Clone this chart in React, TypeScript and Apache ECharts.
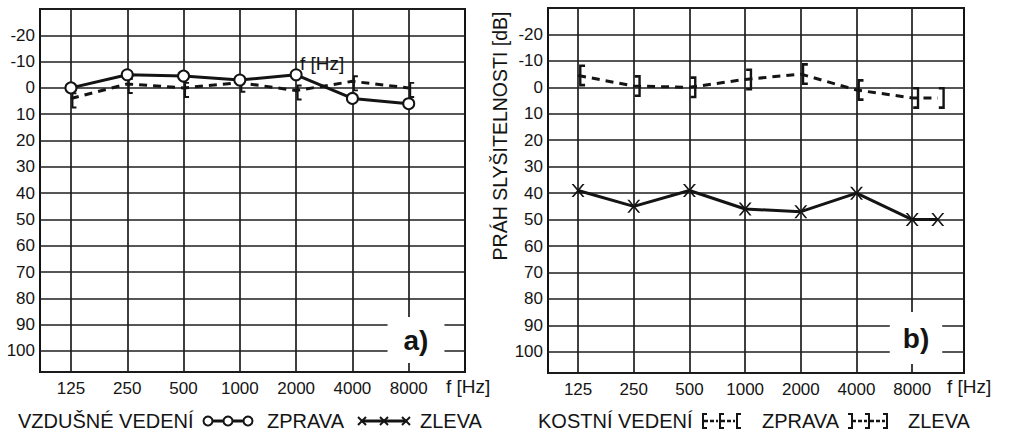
import React, { useEffect, useRef } from 'react';
import * as echarts from 'echarts';

// ---- data ----
const freqTicks = [125, 250, 500, 1000, 2000, 4000, 8000];
const freqTickLabels = ['125', '250', '500', '1000', '2000', '4000', '8000'];

// chart a) air conduction
const freqsA = [125, 250, 500, 1000, 2000, 4000, 8000];
const airRightA = [0, -5, -4.5, -3, -5, 4, 6];
const airLeftA = [4, -1.5, 0, -2, 1, -2.5, 0];

// chart b)
const freqsB = [125, 250, 500, 1000, 2000, 4000, 8000, 11000];
const boneB = [-4.5, -0.5, 0, -3, -5, 1, 4, 4];
const boneMarksB = ['[', ']', ']', ']', '[', '[', ']', ']'];
const airB = [39, 45, 39, 46, 47, 40, 50, 50];

const INK = '#141414';
const GRID = '#1e1e1e';
const FONT = '"Liberation Sans", Arial, sans-serif';

const oct = (f: number) => Math.log2(f / 125);

const BR_L = 'path://M0,0H6V2.4H2.4V17.6H6V20H0Z';
const BR_R = 'path://M0,0H6V20H0V17.6H3.6V2.4H0Z';
const X_SYM = 'path://M0,0L1.6,0L5,4.1L8.4,0L10,0L5.8,5L10,10L8.4,10L5,5.9L1.6,10L0,10L4.2,5Z';

const xAxisFor = (gridIndex: number, min: number, max: number) => ({
  type: 'value',
  gridIndex,
  min,
  max,
  axisLine: { show: false },
  axisTick: { show: false, customValues: freqTicks.map(oct) },
  axisLabel: {
    customValues: freqTicks.map(oct),
    formatter: (v: number) => freqTickLabels[Math.round(v)] ?? '',
    margin: 8,
    fontSize: 17,
    color: INK,
    fontFamily: FONT,
  },
  splitLine: { show: true, lineStyle: { color: GRID, width: 1.7 } },
});

const yAxisFor = (gridIndex: number) => ({
  type: 'value',
  gridIndex,
  inverse: true,
  min: -30,
  max: 108,
  interval: 10,
  axisLine: { show: false },
  axisTick: { show: false },
  axisLabel: {
    formatter: (v: number) => (v >= -20 && v <= 100 ? String(v) : ''),
    margin: 5,
    fontSize: 17,
    color: INK,
    fontFamily: FONT,
  },
  splitLine: { show: true, lineStyle: { color: GRID, width: 1.7 } },
});

const txt = (text: string, x: number, y: number, size: number, extra: any = {}) => ({
  type: 'text',
  x,
  y,
  z: 50,
  ...extra,
  style: {
    text,
    fill: INK,
    fontSize: size,
    fontFamily: FONT,
    align: 'left',
    textAlign: 'left',
    verticalAlign: 'middle',
    textVerticalAlign: 'middle',
    ...(extra.style || {}),
  },
});

const line = (x1: number, y1: number, x2: number, y2: number, w: number, dash?: number[]) => ({
  type: 'line',
  z: 50,
  shape: { x1, y1, x2, y2 },
  style: { stroke: INK, lineWidth: w, lineDash: dash },
});

const circleKey = (cx: number, cy: number) => ({
  type: 'circle',
  z: 51,
  shape: { cx, cy, r: 4.5 },
  style: { fill: '#fff', stroke: INK, lineWidth: 2 },
});

const xKey = (cx: number, cy: number) => [
  line(cx - 4, cy - 4, cx + 4, cy + 4, 2),
  line(cx - 4, cy + 4, cx + 4, cy - 4, 2),
];

const bracketKey = (x: number, cy: number, open: 'L' | 'R') => {
  const d = open === 'L' ? 4 : -4;
  return {
    type: 'polyline',
    z: 51,
    shape: { points: [[x + d, cy - 7], [x, cy - 7], [x, cy + 7], [x + d, cy + 7]] },
    style: { stroke: INK, lineWidth: 2, fill: null },
  };
};

const LY = 421;
const LF = 20;

const graphics: any[] = [
  // chart labels
  txt('a)', 416, 340, 28, {
    style: { fontWeight: 'bold', align: 'center', textAlign: 'center', backgroundColor: '#fff', padding: [9, 16, 9, 16] },
  }),
  txt('b)', 916, 338, 28, {
    style: { fontWeight: 'bold', align: 'center', textAlign: 'center', backgroundColor: '#fff', padding: [12, 13, 12, 13] },
  }),
  txt('f [Hz]', 300, 63, 19),
  txt('f [Hz]', 446, 386, 19),
  txt('f [Hz]', 947, 386, 19),
  txt('PRÁH SLYŠITELNOSTI [dB]', 500, 136, 19.5, {
    rotation: Math.PI / 2,
    style: { align: 'center', textAlign: 'center' },
  }),
  // legend a)
  txt('VZDUŠNÉ VEDENÍ', 18, LY, LF),
  line(208, LY, 248, LY, 3),
  circleKey(208, LY),
  circleKey(228, LY),
  circleKey(248, LY),
  txt('ZPRAVA', 267, LY, LF),
  line(362, LY, 406, LY, 3),
  ...xKey(362, LY),
  ...xKey(384, LY),
  ...xKey(406, LY),
  txt('ZLEVA', 420, LY, LF),
  // legend b)
  txt('KOSTNÍ VEDENÍ', 538, LY, LF),
  line(704, LY, 718, LY, 2.5, [4, 2]),
  line(721, LY, 735, LY, 2.5, [4, 2]),
  bracketKey(703, LY, 'L'),
  bracketKey(720, LY, 'L'),
  bracketKey(737, LY, 'L'),
  txt('ZPRAVA', 762, LY, LF),
  line(852, LY, 867, LY, 2.5, [4, 2]),
  line(870, LY, 885, LY, 2.5, [4, 2]),
  bracketKey(852, LY, 'R'),
  bracketKey(869, LY, 'R'),
  bracketKey(887, LY, 'R'),
  txt('ZLEVA', 908, LY, LF),
];

export default function App() {
  const ref = useRef<HTMLDivElement>(null);
  useEffect(() => {
    if (!ref.current) return;
    const chart = echarts.init(ref.current, undefined, { renderer: 'svg' });
    chart.setOption({
      animation: false,
      backgroundColor: '#fff',
      grid: [
        { left: 40, top: 9, width: 425, height: 363, show: true, borderColor: INK, borderWidth: 2 },
        { left: 548, top: 8, width: 416, height: 365, show: true, borderColor: INK, borderWidth: 2 },
      ],
      xAxis: [xAxisFor(0, -0.55, 7.0), xAxisFor(1, -0.54, 6.93)],
      yAxis: [yAxisFor(0), yAxisFor(1)],
      series: [
        {
          type: 'line',
          name: 'a ZPRAVA',
          xAxisIndex: 0,
          yAxisIndex: 0,
          data: freqsA.map((f, i) => [oct(f), airRightA[i]]),
          symbol: 'emptyCircle',
          symbolSize: 11,
          lineStyle: { color: INK, width: 3 },
          itemStyle: { color: INK, borderWidth: 2.2 },
          z: 4,
        },
        {
          type: 'line',
          name: 'a ZLEVA',
          xAxisIndex: 0,
          yAxisIndex: 0,
          data: freqsA.map((f, i) => [oct(f), airLeftA[i]]),
          symbol: BR_L,
          symbolSize: [5, 16],
          symbolOffset: [3, 2],
          symbolKeepAspect: false,
          lineStyle: { color: INK, width: 3, type: [8, 6] },
          itemStyle: { color: INK, borderWidth: 0 },
          z: 3,
        },
        {
          type: 'line',
          name: 'b KOSTNI',
          xAxisIndex: 1,
          yAxisIndex: 1,
          data: freqsB.map((f, i) => ({
            value: [oct(f), boneB[i]],
            symbol: boneMarksB[i] === '[' ? BR_L : BR_R,
          })),
          symbolSize: [6, 22],
          symbolOffset: [4, 0],
          lineStyle: { color: INK, width: 3, type: [8, 6] },
          itemStyle: { color: INK, borderWidth: 0 },
          z: 3,
        },
        {
          type: 'line',
          name: 'b VZDUSNE',
          xAxisIndex: 1,
          yAxisIndex: 1,
          data: freqsB.map((f, i) => [oct(f), airB[i]]),
          symbol: X_SYM,
          symbolSize: 13,
          lineStyle: { color: INK, width: 3 },
          itemStyle: { color: INK, borderWidth: 0 },
          z: 3,
        },
      ],
      graphic: { elements: graphics },
    });
    return () => chart.dispose();
  }, []);
  return (
    <div
      ref={ref}
      style={{ position: 'fixed', left: 0, top: 0, width: 1024, height: 446, background: '#fff' }}
    />
  );
}
